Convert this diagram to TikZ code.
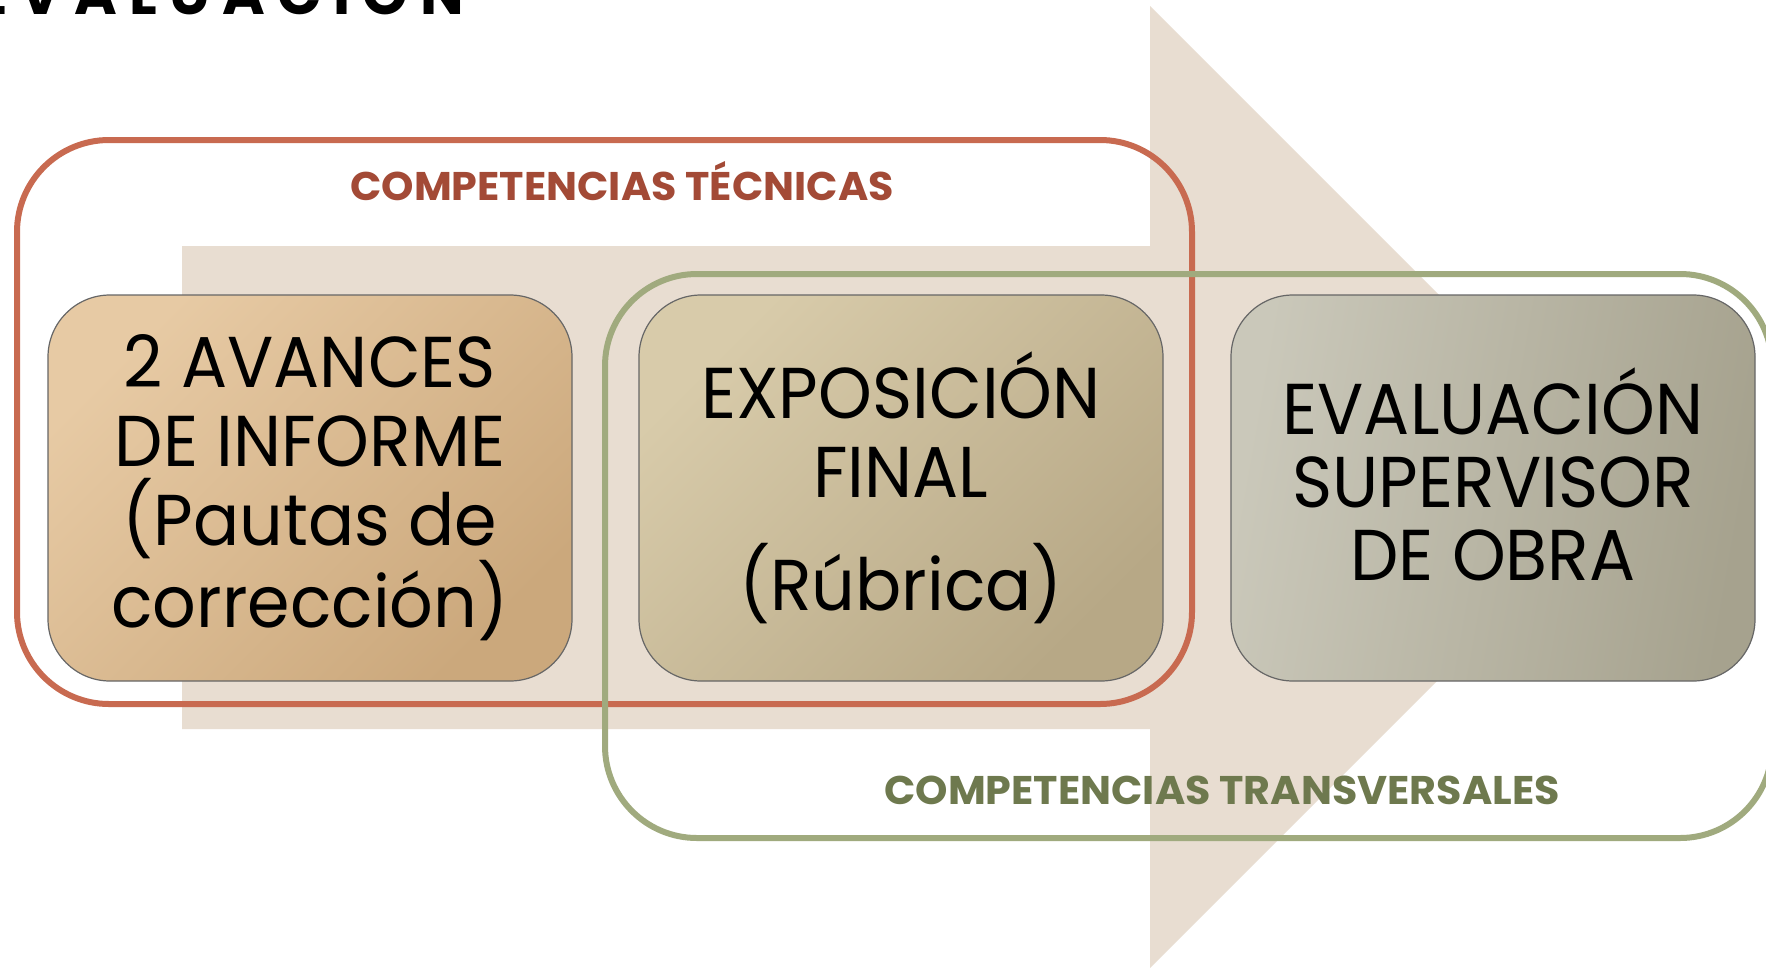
\documentclass[tikz,border=0pt]{standalone}
\usepackage{fontspec}
\setmainfont{Poppins}
\newfontfamily\boxfont{Poppins}[FakeStretch=0.95]
\newfontfamily\tagfont{Poppins}[FakeStretch=1.03]
\newfontfamily\titlefont{Poppins}[LetterSpace=21]

\definecolor{arrowbg}{RGB}{232,221,209}
\definecolor{tecline}{RGB}{200,106,80}
\definecolor{tectext}{RGB}{163,74,54}
\definecolor{traline}{RGB}{160,170,126}
\definecolor{tratext}{RGB}{110,121,78}
\definecolor{avancesA}{RGB}{231,202,164}
\definecolor{avancesB}{RGB}{203,168,124}
\definecolor{expoA}{RGB}{216,203,170}
\definecolor{expoB}{RGB}{183,168,134}
\definecolor{superA}{RGB}{202,200,186}
\definecolor{superB}{RGB}{166,162,142}

\begin{document}
\begin{tikzpicture}[x=1pt,y=-1pt,
  stepbox/.style 2 args={draw=black!60,line width=1.2pt,rounded corners=62pt,
    minimum width=524pt,minimum height=386pt,align=center,inner sep=0pt,
    font=\boxfont\fontsize{72}{79}\selectfont,
    top color=#1,bottom color=#2,shading angle=45},
  groupline/.style={line width=6pt,rounded corners=92pt},
  grouptag/.style={font=\tagfont\bfseries\fontsize{40}{48}\selectfont}]
\clip (0,0) rectangle (1766,967);
\fill[white] (0,0) rectangle (1766,967);

\fill[arrowbg] (182,246) -- (1150,246) -- (1150,6) -- (1631,487)
  -- (1150,968) -- (1150,729) -- (182,729) -- cycle;

\node[anchor=base west,inner sep=0pt,font=\titlefont\bfseries\fontsize{58}{64}\selectfont] (title) at (-24,14) {EVALUACIÓN};

\draw[groupline,tecline] (17,140) rectangle (1192,704);
\draw[groupline,traline] (605,274) rectangle (1772,838);

\node[grouptag,text=tectext] (tec) at (622,181) {COMPETENCIAS TÉCNICAS};
\node[grouptag,text=tratext] (tra) at (1222,790) {COMPETENCIAS TRANSVERSALES};

\node[stepbox={avancesA}{avancesB}] (avances) at (310,488)
  {2 AVANCES\\DE INFORME\\(Pautas de\\corrección)};
\node[stepbox={expoA}{expoB}] (expo) at (901,488)
  {EXPOSICIÓN\\FINAL\\[34pt](Rúbrica)};
\node[stepbox={superA}{superB},shading angle=80] (super) at (1493,488)
  {EVALUACIÓN\\[-6pt]SUPERVISOR\\[-6pt]DE OBRA\rule[-27pt]{0pt}{0pt}};
\end{tikzpicture}
\end{document}
